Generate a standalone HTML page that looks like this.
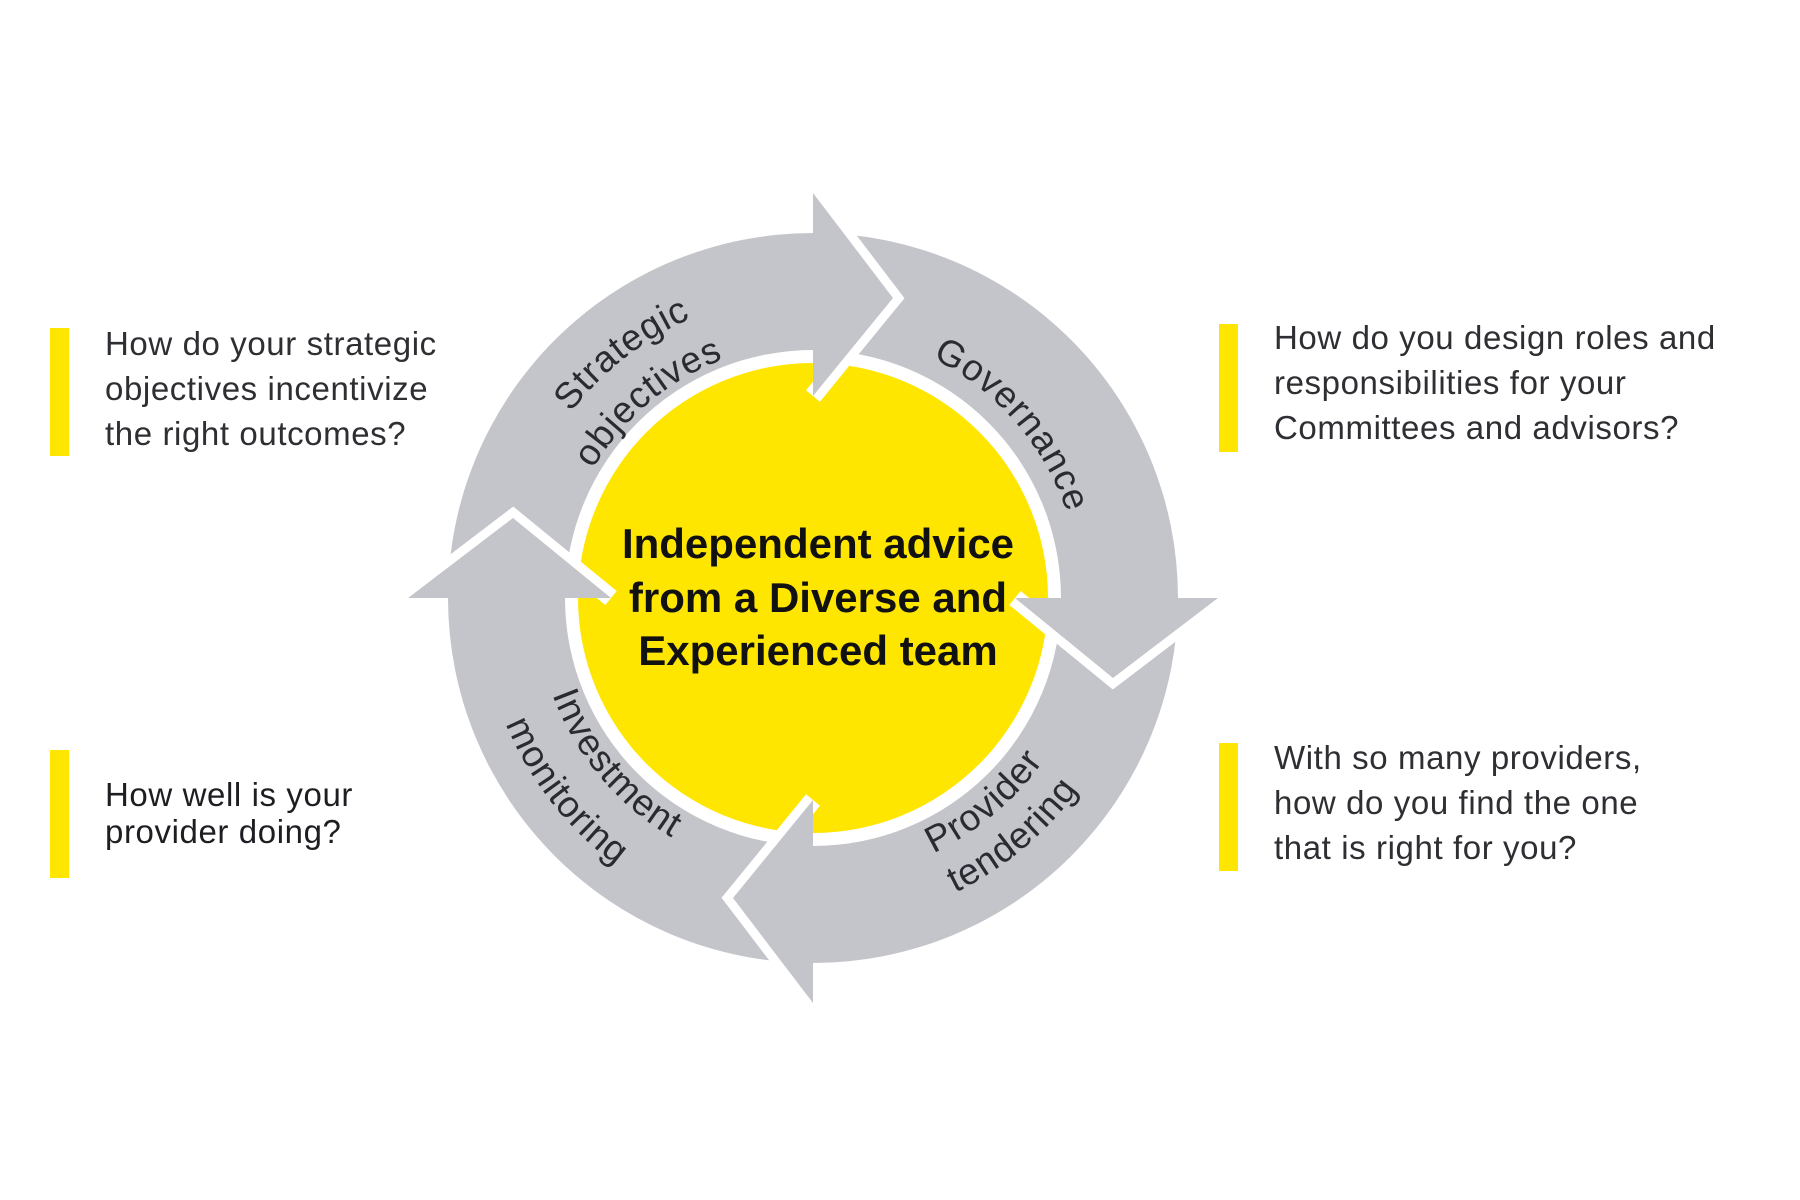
<!DOCTYPE html>
<html><head><meta charset="utf-8"><style>
html,body{margin:0;padding:0;background:#fff}
svg{display:block}
.q{font-family:"Liberation Sans",sans-serif;font-size:33px;fill:#2e2e33;letter-spacing:0.6px}
.l{font-family:"Liberation Sans",sans-serif;font-size:37px;fill:#2a2a33;letter-spacing:1px}
.c{font-family:"Liberation Sans",sans-serif;font-size:42px;font-weight:bold;fill:#111}
</style></head><body>
<svg width="1800" height="1200" viewBox="0 0 1800 1200" xmlns="http://www.w3.org/2000/svg">
<defs>
<path id="pS" d="M576.7,785.9 A305,305 0 0 1 1057.3,410.1"/>
<path id="pO" d="M621.7,762 A255,255 0 0 1 1012.3,434"/>
<path id="pG" d="M641.2,395.7 A268,268 0 0 1 992.8,800.3"/>
<path id="pI" d="M638.3,385 A278,278 0 0 0 995.7,811"/>
<path id="pM" d="M612.5,336.4 A332,332 0 0 0 1021.5,859.6"/>
<path id="pP" d="M598,781.9 A286,286 0 0 0 1036,414.1"/>
<path id="pT" d="M563.5,810.8 A331,331 0 0 0 1070.5,385.2"/>
</defs>
<g transform="translate(-4,0)">
<circle cx="817" cy="598" r="235" fill="#ffe600"/>
<g fill="#c4c5ca">
<g id="body"><path d="M452,598 A365,365 0 0 1 817,233 L817,350 A248,248 0 0 0 569,598 Z"/></g>
<use href="#body" transform="rotate(90 817 598)"/>
<use href="#body" transform="rotate(180 817 598)"/>
<use href="#body" transform="rotate(270 817 598)"/>
</g>
<g id="head">
<polyline points="817,193 897,298 817,396" fill="none" stroke="#fff" stroke-width="18" stroke-linejoin="miter"/>
<polygon points="817,193 897,298 817,396" fill="#c4c5ca"/>
</g>
<use href="#head" transform="rotate(90 817 598)"/>
<use href="#head" transform="rotate(180 817 598)"/>
<use href="#head" transform="rotate(270 817 598)"/>

<text class="l"><textPath href="#pS" startOffset="50%" text-anchor="middle">Strategic</textPath></text>
<text class="l"><textPath href="#pO" startOffset="50%" text-anchor="middle">objectives</textPath></text>
<text class="l"><textPath href="#pG" startOffset="50%" text-anchor="middle">Governance</textPath></text>
<text class="l"><textPath href="#pI" startOffset="50%" text-anchor="middle">Investment</textPath></text>
<text class="l"><textPath href="#pM" startOffset="50%" text-anchor="middle">monitoring</textPath></text>
<text class="l"><textPath href="#pP" startOffset="50%" text-anchor="middle">Provider</textPath></text>
<text class="l"><textPath href="#pT" startOffset="50%" text-anchor="middle">tendering</textPath></text>

<text class="c" text-anchor="middle" x="822" y="558">Independent advice</text>
<text class="c" text-anchor="middle" x="822" y="612">from a Diverse and</text>
<text class="c" text-anchor="middle" x="822" y="665">Experienced team</text>
</g>

<g fill="#ffe600">
<rect x="50" y="328" width="19" height="128"/>
<rect x="1219" y="324" width="19" height="128"/>
<rect x="50" y="750" width="19" height="128"/>
<rect x="1219" y="743" width="19" height="128"/>
</g>
<text class="q" x="105" y="355">How do your strategic</text>
<text class="q" x="105" y="400">objectives incentivize</text>
<text class="q" x="105" y="445">the right outcomes?</text>

<text class="q" x="1274" y="349">How do you design roles and</text>
<text class="q" x="1274" y="394">responsibilities for your</text>
<text class="q" x="1274" y="439">Committees and advisors?</text>

<text class="q" x="1274" y="769">With so many providers,</text>
<text class="q" x="1274" y="814">how do you find the one</text>
<text class="q" x="1274" y="859">that is right for you?</text>

<text class="q" x="105" y="806" style="fill:#1e1e22">How well is your</text>
<text class="q" x="105" y="843" style="fill:#1e1e22">provider doing?</text>
</svg>
</body></html>
